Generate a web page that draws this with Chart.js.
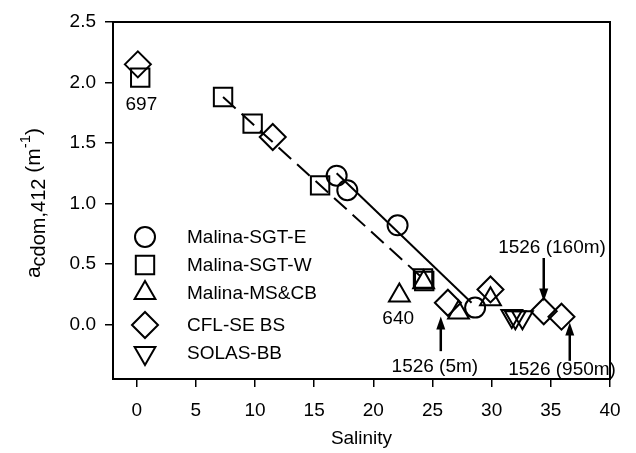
<!DOCTYPE html>
<html><head><meta charset="utf-8">
<script src="https://cdn.jsdelivr.net/npm/chart.js@4"></script>
<style>html,body{margin:0;padding:0;background:#fff}#wrap{width:636px;height:453px}</style>
</head><body><div id="wrap"><canvas id="c" width="636" height="453"></canvas></div>
<script>
// ---- data ----
const seriesNames = ['Malina-SGT-E', 'Malina-SGT-W', 'Malina-MS&CB', 'CFL-SE BS', 'SOLAS-BB'];
const sgtE_x = [16.9, 17.8, 22.05, 28.6];
const sgtE_y = [1.23, 1.11, 0.82, 0.14];
const sgtW_x = [0.3, 7.3, 9.8, 15.5, 24.2, 24.3];
const sgtW_y = [2.04, 1.88, 1.66, 1.15, 0.38, 0.36];
const msCB_x = [22.2, 24.25, 27.2, 29.9];
const msCB_y = [0.24, 0.35, 0.10, 0.21];
const cfl_x = [0.1, 11.5, 26.3, 29.9, 34.4, 35.9];
const cfl_y = [2.15, 1.55, 0.18, 0.29, 0.11, 0.065];
const solas_x = [31.7, 32.0, 32.6];
const solas_y = [0.07, 0.06, 0.06];
const fitE_x = [16.9, 28.3];
const fitE_y = [1.25, 0.18];
const fitW_x = [7.3, 24.3];
const fitW_y = [1.88, 0.37];
const xTicks = [0, 5, 10, 15, 20, 25, 30, 35, 40];
const yTicks = [0.0, 0.5, 1.0, 1.5, 2.0, 2.5];
// annotations: text and anchor (data units)
const noteTexts = ['697', '640', '1526 (5m)', '1526 (160m)', '1526 (950m)'];
const noteX = [0.4, 22.1, 25.2, 35.1, 35.95];
const noteY = [1.82, 0.05, -0.35, 0.635, -0.37];
// arrows: x, y tail, y head
const arrowX = [25.7, 34.4, 36.6];
const arrowY0 = [-0.22, 0.55, -0.30];
const arrowY1 = [0.066, 0.19, 0.017];

const FONT = "'Liberation Sans', Arial, sans-serif";
const pts = (xs, ys) => xs.map((x, i) => ({x: x, y: ys[i]}));

const styles = [
  {pointStyle: 'circle', radius: 10, rot: 0},
  {pointStyle: 'rect', radius: 13, rot: 0},
  {pointStyle: 'triangle', radius: 12, rot: 0},
  {pointStyle: 'rectRot', radius: 13, rot: 0},
  {pointStyle: 'triangle', radius: 12, rot: 180}
];
const seriesData = [pts(sgtE_x, sgtE_y), pts(sgtW_x, sgtW_y), pts(msCB_x, msCB_y), pts(cfl_x, cfl_y), pts(solas_x, solas_y)];

const datasets = [
  {type: 'line', data: pts(fitE_x, fitE_y), borderColor: '#000', borderWidth: 2, pointRadius: 0, fill: false},
  {type: 'line', data: pts(fitW_x, fitW_y), borderColor: '#000', borderWidth: 2, borderDash: [17, 8], pointRadius: 0, fill: false}
];
seriesData.forEach((d, i) => {
  datasets.push({
    type: 'scatter', label: seriesNames[i], data: d,
    pointStyle: styles[i].pointStyle, pointRadius: styles[i].radius, pointHoverRadius: styles[i].radius,
    pointRotation: styles[i].rot, borderColor: '#000', backgroundColor: 'rgba(0,0,0,0)', borderWidth: 2, showLine: false
  });
});

function drawMarker(ctx, style, x, y, r, rotDeg) {
  const rad = rotDeg * Math.PI / 180;
  ctx.beginPath();
  if (style === 'circle') {
    ctx.arc(x, y, r, 0, Math.PI * 2);
  } else if (style === 'rect') {
    const s = Math.SQRT1_2 * r;
    ctx.rect(x - s, y - s, 2 * s, 2 * s);
  } else if (style === 'rectRot') {
    ctx.moveTo(x - r, y); ctx.lineTo(x, y - r); ctx.lineTo(x + r, y); ctx.lineTo(x, y + r); ctx.closePath();
  } else if (style === 'triangle') {
    let a = rad;
    ctx.moveTo(x + Math.sin(a) * r, y - Math.cos(a) * r);
    a += 2 * Math.PI / 3;
    ctx.lineTo(x + Math.sin(a) * r, y - Math.cos(a) * r);
    a += 2 * Math.PI / 3;
    ctx.lineTo(x + Math.sin(a) * r, y - Math.cos(a) * r);
    ctx.closePath();
  }
  ctx.stroke();
}

const decor = {
  id: 'decor',
  afterDraw(chart) {
    const ctx = chart.ctx, a = chart.chartArea, sx = chart.scales.x, sy = chart.scales.y;
    ctx.save();
    ctx.strokeStyle = '#000'; ctx.fillStyle = '#000'; ctx.lineWidth = 2;
    ctx.strokeRect(a.left, a.top, a.right - a.left, a.bottom - a.top);
    // legend
    const legY = [237, 265, 293, 325, 353];
    ctx.font = '19px ' + FONT; ctx.textAlign = 'left'; ctx.textBaseline = 'middle';
    seriesNames.forEach((n, i) => {
      ctx.lineWidth = 2;
      drawMarker(ctx, styles[i].pointStyle, 145, legY[i], styles[i].radius, styles[i].rot);
      ctx.fillText(n, 187, legY[i] + 1);
    });
    // annotations
    ctx.textAlign = 'center';
    noteTexts.forEach((t, i) => {
      ctx.fillText(t, sx.getPixelForValue(noteX[i]), sy.getPixelForValue(noteY[i]));
    });
    // arrows
    arrowX.forEach((ax, i) => {
      const px = sx.getPixelForValue(ax), y0 = sy.getPixelForValue(arrowY0[i]), y1 = sy.getPixelForValue(arrowY1[i]);
      const dir = y1 < y0 ? -1 : 1;
      ctx.lineWidth = 2.5;
      ctx.beginPath(); ctx.moveTo(px, y0); ctx.lineTo(px, y1 - dir * 8); ctx.stroke();
      ctx.beginPath(); ctx.moveTo(px, y1); ctx.lineTo(px - 4.5, y1 - dir * 13); ctx.lineTo(px + 4.5, y1 - dir * 13); ctx.closePath(); ctx.fill();
    });
    // x title
    ctx.font = '19px ' + FONT; ctx.textAlign = 'center'; ctx.textBaseline = 'middle';
    ctx.fillText('Salinity', (a.left + a.right) / 2 + 0, 439);
    // y title with sub/superscripts
    const parts = [
      {t: 'a', f: 21, dy: 0}, {t: 'cdom,412', f: 20, dy: 5}, {t: ' (m', f: 21, dy: 0},
      {t: '-1', f: 15, dy: -10}, {t: ')', f: 21, dy: 0}
    ];
    let total = 0;
    parts.forEach(p => { ctx.font = p.f + 'px ' + FONT; p.w = ctx.measureText(p.t).width; total += p.w; });
    ctx.translate(33, 203); ctx.rotate(-Math.PI / 2);
    ctx.textAlign = 'left'; ctx.textBaseline = 'alphabetic';
    let cx = -total / 2;
    parts.forEach(p => { ctx.font = p.f + 'px ' + FONT; ctx.fillText(p.t, cx, 7 + p.dy); cx += p.w; });
    ctx.restore();
  }
};

new Chart(document.getElementById('c'), {
  data: {datasets: datasets},
  options: {
    responsive: false, animation: false, devicePixelRatio: 1,
    layout: {padding: {left: 0, top: 22, right: 26, bottom: 0}},
    plugins: {legend: {display: false}, tooltip: {enabled: false}},
    scales: {
      x: {
        type: 'linear', min: -2, max: 40,
        border: {display: false},
        grid: {display: true, drawOnChartArea: false, drawTicks: true, tickLength: 8, color: '#000', lineWidth: 1.5},
        afterBuildTicks: s => { s.ticks = xTicks.map(v => ({value: v})); },
        afterFit: s => { s.height = 74; },
        ticks: {color: '#000', padding: 12, maxRotation: 0, autoSkip: false, font: {family: FONT, size: 19}, callback: v => String(v)}
      },
      y: {
        type: 'linear', min: -0.45, max: 2.5,
        border: {display: false},
        grid: {display: true, drawOnChartArea: false, drawTicks: true, tickLength: 8, color: '#000', lineWidth: 1.5},
        afterBuildTicks: s => { s.ticks = yTicks.map(v => ({value: v})); },
        afterFit: s => { s.width = 113; },
        ticks: {color: '#000', padding: 9, autoSkip: false, font: {family: FONT, size: 19}, callback: v => Number(v).toFixed(1)}
      }
    }
  },
  plugins: [decor]
});
</script>
</body></html>
